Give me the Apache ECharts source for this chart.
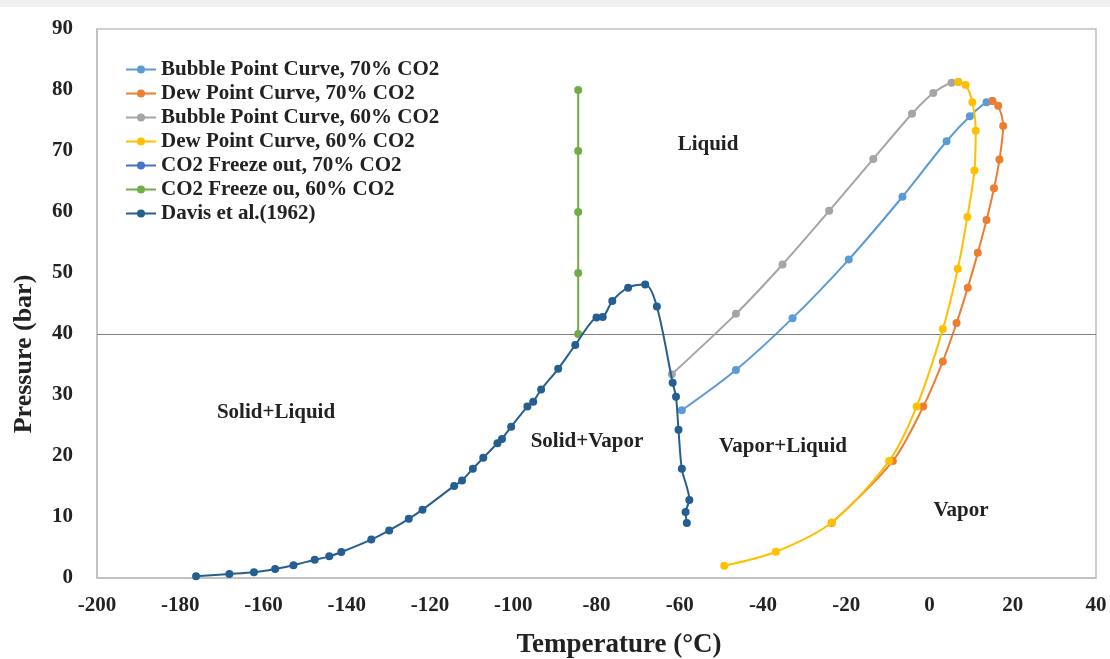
<!DOCTYPE html>
<html>
<head>
<meta charset="utf-8">
<script src="https://cdn.jsdelivr.net/npm/echarts@6/dist/echarts.min.js"></script>
<style>
  html, body { margin: 0; padding: 0; background: #fff; }
  #chart { width: 1110px; height: 659px; }
</style>
</head>
<body>
<div id="chart"></div>
<script>
// 各曲线数据 [温度 °C, 压力 bar]
const bubble70 = [[-59.5, 27.5], [-46.5, 34.1], [-32.9, 42.6], [-19.4, 52.2], [-6.5, 62.5], [4.1, 71.6], [9.7, 75.7], [13.7, 78.0], [15.1, 78.2]]
const dew70 = [[15.1, 78.2], [16.5, 77.4], [17.7, 74.1], [16.8, 68.6], [15.5, 63.9], [13.7, 58.7], [11.6, 53.3], [9.2, 47.6], [6.5, 41.8], [3.2, 35.5], [-1.5, 28.1], [-8.8, 19.2], [-23.5, 9.0]]
const bubble60 = [[-61.9, 33.4], [-46.5, 43.3], [-35.3, 51.4], [-24.1, 60.2], [-13.5, 68.7], [-4.2, 76.1], [0.9, 79.5], [5.3, 81.2], [6.9, 81.3]]
const dew60 = [[6.9, 81.3], [8.7, 80.8], [10.3, 78.0], [11.1, 73.3], [10.8, 66.8], [9.1, 59.2], [6.8, 50.7], [3.2, 40.8], [-3.1, 28.1], [-9.7, 19.2], [-23.5, 9.1], [-36.9, 4.3], [-49.3, 2.0]]
const freeze70 = []
const freeze60 = [[-84.4, 40], [-84.4, 50], [-84.4, 60], [-84.4, 70], [-84.4, 80]]
const davis = [[-176.2, 0.3], [-168.2, 0.65], [-162.3, 0.93], [-157.2, 1.47], [-152.8, 2.1], [-147.7, 3.0], [-144.2, 3.55], [-141.3, 4.26],
  [-134.1, 6.3], [-129.8, 7.8], [-125.1, 9.7], [-121.8, 11.2], [-114.2, 15.1], [-112.3, 16.0], [-109.7, 17.9], [-107.2, 19.7],
  [-103.8, 22.1], [-102.7, 22.8], [-100.5, 24.8], [-96.6, 28.1], [-95.2, 28.9], [-93.3, 30.9], [-89.2, 34.3], [-85.1, 38.2],
  [-80.0, 42.7], [-78.5, 42.8], [-76.2, 45.4], [-72.4, 47.6], [-68.3, 48.1], [-65.5, 44.5], [-61.7, 32.0], [-60.9, 29.7],
  [-60.3, 24.3], [-59.5, 17.9], [-57.7, 12.8], [-58.6, 10.8], [-58.3, 9.0]]

const seriesNames = ['Bubble Point Curve, 70% CO2', 'Dew Point Curve, 70% CO2', 'Bubble Point Curve, 60% CO2', 'Dew Point Curve, 60% CO2', 'CO2 Freeze out, 70% CO2', 'CO2 Freeze ou, 60% CO2', 'Davis et al.(1962)']
const seriesData = [bubble70, dew70, bubble60, dew60, freeze70, freeze60, davis]
const colors = ['#5B9BD5', '#ED7D31', '#A5A5A5', '#FFC000', '#4472C4', '#70AD47', '#255E91']

// 区域标注
const regionLabels = [
  { text: 'Liquid', x: 708, y: 145 },
  { text: 'Solid+Liquid', x: 276, y: 413 },
  { text: 'Solid+Vapor', x: 587, y: 442 },
  { text: 'Vapor+Liquid', x: 783, y: 447 },
  { text: 'Vapor', x: 961, y: 511 }
]

const font = '"Liberation Serif", "Times New Roman", serif'
const myChart = echarts.init(document.querySelector('#chart'))

const series = seriesNames.map((name, i) => {
  return {
    name: name,
    type: 'line',
    data: seriesData[i],
    smooth: i === 5 ? false : 0.3,
    symbol: 'circle',
    symbolSize: 8,
    color: colors[i],
    lineStyle: { width: 2 },
    z: 3 + i
  }
})
// 40 bar 处的水平线
series[0].markLine = {
  silent: true,
  symbol: 'none',
  label: { show: false },
  lineStyle: { color: '#808080', width: 1, type: 'solid' },
  data: [{ yAxis: 40 }]
}

const option = {
  animation: false,
  backgroundColor: '#fff',
  grid: {
    left: 97, top: 29, right: 14, bottom: 81,
    show: true,
    borderColor: '#bfbfbf',
    borderWidth: 1.5
  },
  legend: {
    orient: 'vertical',
    left: 120,
    top: 54,
    itemWidth: 30,
    itemHeight: 10,
    itemGap: 3,
    data: seriesNames,
    textStyle: { fontFamily: font, fontWeight: 'bold', fontSize: 21, color: '#222', lineHeight: 21 }
  },
  xAxis: {
    type: 'value',
    min: -200,
    max: 40,
    interval: 20,
    axisLine: { show: true, onZero: false, lineStyle: { color: '#bfbfbf', width: 1.5 } },
    axisTick: { show: false },
    splitLine: { show: false },
    axisLabel: { fontFamily: font, fontWeight: 'bold', fontSize: 21, color: '#222', margin: 17 }
  },
  yAxis: {
    type: 'value',
    min: 0,
    max: 90,
    interval: 10,
    axisLine: { show: true, onZero: false, lineStyle: { color: '#bfbfbf', width: 1.5 } },
    axisTick: { show: false },
    splitLine: { show: false },
    axisLabel: { fontFamily: font, fontWeight: 'bold', fontSize: 21, color: '#222', margin: 24 }
  },
  graphic: [
    { type: 'rect', left: 0, top: 0, shape: { width: 1110, height: 7 }, style: { fill: '#eff0f2' } },
    {
      type: 'text', x: 619, y: 645,
      style: { text: 'Temperature (°C)', font: 'bold 27px ' + font, fill: '#222', textAlign: 'center', textVerticalAlign: 'middle' }
    },
    {
      type: 'text', x: 24, y: 354, rotation: Math.PI / 2,
      style: { text: 'Pressure (bar)', font: 'bold 26px ' + font, fill: '#222', textAlign: 'center', textVerticalAlign: 'middle' }
    }
  ].concat(regionLabels.map(item => {
    return {
      type: 'text',
      x: item.x,
      y: item.y,
      style: {
        text: item.text,
        font: 'bold 21px ' + font,
        fill: '#222',
        textAlign: 'center',
        textVerticalAlign: 'middle'
      }
    }
  })),
  series: series
}
myChart.setOption(option)
</script>
</body>
</html>
